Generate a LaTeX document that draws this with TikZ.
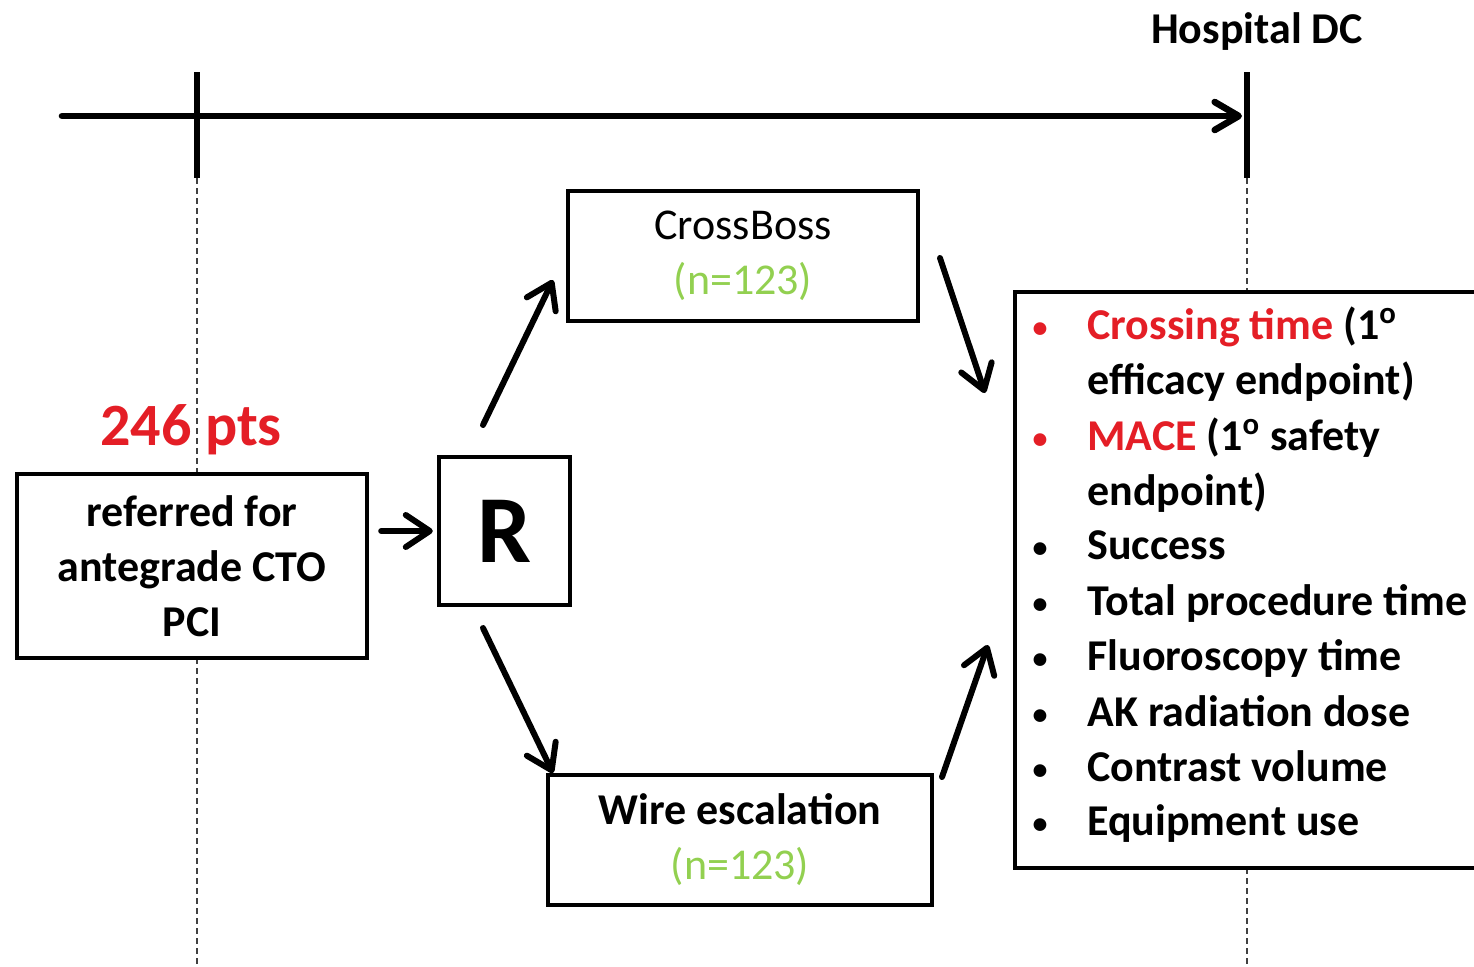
\documentclass[tikz,border=0pt]{standalone}
\usepackage{fontspec}
\setmainfont{Carlito}
\usetikzlibrary{arrows.meta}
\definecolor{cred}{RGB}{228,30,38}
\definecolor{cgreen}{RGB}{146,208,80}
\begin{document}
\begin{tikzpicture}[x=0.5pt,y=-0.5pt,
  box/.style={draw,line width=2.2pt,fill=white,inner sep=0pt,align=center,font=\fontsize{22}{27.5}\selectfont\bfseries},
  arr/.style={line width=3pt,line cap=round,-{Straight Barb[length=12pt,width=16pt,round]}},
  tline/.style={line width=3.3pt,line cap=round,-{Straight Barb[length=12pt,width=14pt,round]}},
  guide/.style={black!75,line width=0.7pt,dash pattern=on 3pt off 2pt},
  tickmark/.style={line width=2.7pt},
  item/.style={anchor=base west,inner sep=0pt,font=\fontsize{22}{27.5}\selectfont\bfseries},
  bul/.style={anchor=base,inner sep=0pt,font=\fontsize{15}{16}\selectfont\bfseries},
  lbl/.style={inner sep=0pt,font=\fontsize{22}{27.5}\selectfont\bfseries}]
\useasboundingbox (0,0) rectangle (1474,966);
\clip (0,0) rectangle (1474,966);
% tick marks and guides
\coordinate (t0) at (62,116);
\coordinate (t1) at (1242,116);
\coordinate (lt) at (197,72);
\coordinate (lb) at (197,178);
\coordinate (le) at (197,966);
\coordinate (rt) at (1247,72);
\coordinate (rb) at (1247,178);
\coordinate (re) at (1247,966);
\draw[guide] (lb) -- (le);
\draw[guide] (rb) -- (re);
\draw[tline] (t0) -- (t1);
\draw[tickmark] (lt) -- (lb);
\draw[tickmark] (rt) -- (rb);
\node[lbl] (dc) at (1257,32) {Hospital DC};
% boxes
\node[lbl,text=cred,font=\fontsize{30}{32}\selectfont\bfseries] (pts) at (191,430) {246 pts};
\node[box,minimum width=175pt,minimum height=92pt] (left) at (192,566) {referred for\\antegrade CTO\\PCI};
\node[box,minimum width=65.5pt,minimum height=74pt,font=\fontsize{48}{50}\selectfont\bfseries] (R) at (504.5,531) {R};
\node[box,minimum width=175pt,minimum height=65pt] (cb) at (743,256) {{\mdseries CrossBoss}\\\textcolor{cgreen}{\mdseries(n=123)}};
\node[box,minimum width=192pt,minimum height=65pt] (we) at (740,840) {Wire escalation\\\textcolor{cgreen}{\mdseries(n=123)}};
\node[draw,fill=white,line width=2.2pt,minimum width=250pt,minimum height=288pt,anchor=north west,inner sep=0pt] (out) at (1013,290) {};
% outcome list
\node[bul,text=cred] (b1) at (1040,337) {•};
\node[item] (i1) at (1087,339) {\textcolor{cred}{Crossing time} (1\textsuperscript{o}};
\node[item] (i2) at (1087,394) {efficacy endpoint)};
\node[bul,text=cred] (b3) at (1040,448) {•};
\node[item] (i3) at (1087,450) {\textcolor{cred}{MACE} (1\textsuperscript{o} safety};
\node[item] (i4) at (1087,505) {endpoint)};
\node[bul] (b5) at (1040,557) {•};
\node[item] (i5) at (1087,559) {Success};
\node[bul] (b6) at (1040,613) {•};
\node[item] (i6) at (1087,615) {Total procedure time};
\node[bul] (b7) at (1040,668) {•};
\node[item] (i7) at (1087,670) {Fluoroscopy time};
\node[bul] (b8) at (1040,724) {•};
\node[item] (i8) at (1087,726) {AK radiation dose};
\node[bul] (b9) at (1040,779) {•};
\node[item] (i9) at (1087,781) {Contrast volume};
\node[bul] (b10) at (1040,833) {•};
\node[item] (i10) at (1087,835) {Equipment use};
% connectors
\coordinate (a1s) at (483,425);
\coordinate (a1e) at (553,280);
\coordinate (a2s) at (940,258);
\coordinate (a2e) at (985,393);
\coordinate (a3s) at (483,628);
\coordinate (a3e) at (553,773);
\coordinate (a4s) at (942,777);
\coordinate (a4e) at (988,645);
\draw[arr,shorten <=6pt,shorten >=2pt] (left.east |- R.west) -- (R.west);
\draw[arr] (a1s) -- (a1e);
\draw[arr] (a2s) -- (a2e);
\draw[arr] (a3s) -- (a3e);
\draw[arr] (a4s) -- (a4e);
\end{tikzpicture}
\end{document}
